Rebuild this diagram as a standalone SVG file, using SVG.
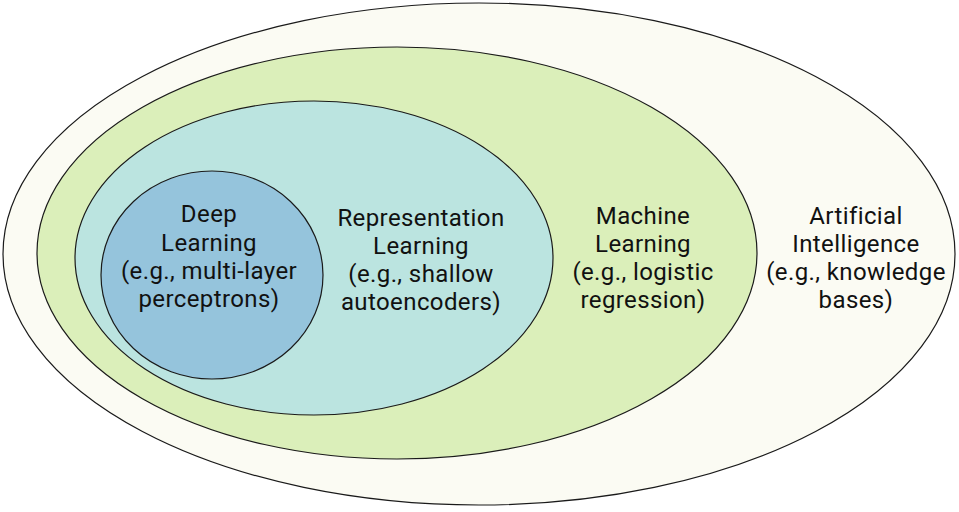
<svg xmlns="http://www.w3.org/2000/svg" width="959" height="512" viewBox="0 0 959 512">
<style>
.e{stroke:#1a1a1a;stroke-width:1.2}
.t{font-family:Roboto,"Liberation Sans",sans-serif;font-size:24px;letter-spacing:0.4px;fill:#111;text-anchor:middle}
</style>
<rect width="959" height="512" fill="#ffffff"/>
<g id="ai">
<ellipse class="e" cx="479" cy="254" rx="476" ry="251" fill="#FBFBF3"/>
<text class="t" x="856" y="224">Artificial</text>
<text class="t" x="856" y="252">Intelligence</text>
<text class="t" x="856" y="280">(e.g., knowledge</text>
<text class="t" x="856" y="308">bases)</text>
</g>
<g id="ml">
<ellipse class="e" cx="397" cy="253" rx="360" ry="206" fill="#DBEFBA"/>
<text class="t" x="643" y="224">Machine</text>
<text class="t" x="643" y="252">Learning</text>
<text class="t" x="643" y="280">(e.g., logistic</text>
<text class="t" x="643" y="308">regression)</text>
</g>
<g id="rl">
<ellipse class="e" cx="314" cy="258" rx="239" ry="157" fill="#BBE4E0"/>
<text class="t" x="421" y="226">Representation</text>
<text class="t" x="421" y="254">Learning</text>
<text class="t" x="421" y="282">(e.g., shallow</text>
<text class="t" x="421" y="310">autoencoders)</text>
</g>
<g id="dl">
<ellipse class="e" cx="212" cy="275" rx="111" ry="104" fill="#95C4DC"/>
<text class="t" x="209" y="222">Deep</text>
<text class="t" x="209" y="251">Learning</text>
<text class="t" x="209" y="279">(e.g., multi-layer</text>
<text class="t" x="209" y="307">perceptrons)</text>
</g>
<g id="connectors"></g>
</svg>
